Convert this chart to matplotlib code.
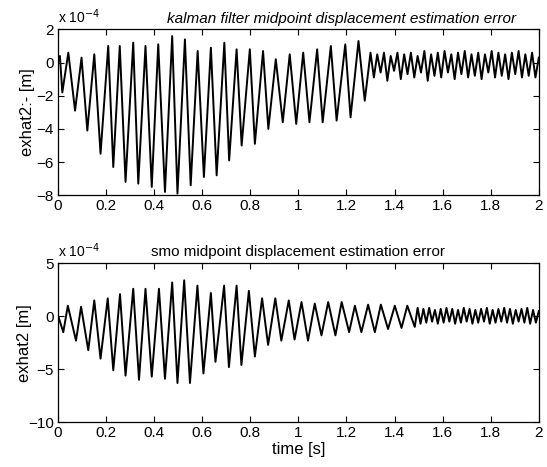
import matplotlib.pyplot as plt
import numpy as np

plt.rcParams['font.family'] = ['Liberation Sans', 'DejaVu Sans']

# kalman filter error: extrema (x 1e-4 m)
t_kf = [0.000, 0.008, 0.018, 0.043, 0.071, 0.098, 0.122, 0.151, 0.177, 0.209,
        0.230, 0.257, 0.281, 0.313, 0.334, 0.364, 0.390, 0.417, 0.445, 0.475,
        0.497, 0.528, 0.552, 0.581, 0.607, 0.636, 0.660, 0.692, 0.712, 0.743,
        0.764, 0.798, 0.819, 0.853, 0.875, 0.906, 0.935, 0.964, 0.991, 1.020,
        1.046, 1.078, 1.101, 1.135, 1.159, 1.195, 1.217, 1.250, 1.276, 1.300,
        1.314, 1.328, 1.342, 1.356, 1.370, 1.384, 1.398, 1.412, 1.426, 1.440,
        1.454, 1.468, 1.482, 1.496, 1.510, 1.524, 1.538, 1.552, 1.566, 1.580,
        1.594, 1.608, 1.622, 1.636, 1.650, 1.664, 1.678, 1.692, 1.706, 1.720,
        1.734, 1.748, 1.762, 1.776, 1.790, 1.804, 1.818, 1.832, 1.846, 1.860,
        1.874, 1.888, 1.902, 1.916, 1.930, 1.944, 1.958, 1.972, 1.986, 2.000]
v_kf = [0.0, 0.4, -1.8, 0.6, -2.9, 0.3, -4.1, 0.5, -5.5, 1.0,
        -6.3, 1.0, -7.2, 1.2, -7.3, 1.0, -7.5, 1.1, -7.8, 1.6,
        -7.9, 1.4, -7.4, 0.7, -6.9, 0.9, -6.8, 1.2, -5.9, 0.8,
        -5.0, 0.8, -4.9, 0.7, -4.0, 0.2, -3.6, 0.5, -3.7, 0.6,
        -3.6, 0.8, -3.6, 1.0, -3.5, 1.1, -3.3, 1.3, -2.3, 0.6,
        -0.9, 0.5, -0.6, 0.6, -1.1, 0.4, -0.5, 0.6, -1.0, 0.5,
        -0.7, 0.6, -0.9, 0.4, -0.6, 0.7, -1.1, 0.5, -0.8, 0.6,
        -0.9, 0.7, -0.6, 0.5, -1.0, 0.6, -0.7, 0.7, -0.9, 0.5,
        -0.8, 0.6, -1.0, 0.5, -0.6, 0.7, -0.9, 0.6, -0.8, 0.5,
        -1.0, 0.6, -0.7, 0.7, -0.9, 0.5, -0.8, 0.6, -0.9, 0.3]

# smo error: extrema (x 1e-4 m)
t_smo = [0.000, 0.022, 0.041, 0.075, 0.096, 0.126, 0.151, 0.177, 0.207, 0.230,
         0.258, 0.281, 0.313, 0.337, 0.364, 0.390, 0.420, 0.445, 0.475, 0.497,
         0.525, 0.549, 0.580, 0.605, 0.636, 0.655, 0.691, 0.711, 0.743, 0.763,
         0.794, 0.819, 0.849, 0.874, 0.904, 0.929, 0.960, 0.984, 1.013, 1.040,
         1.068, 1.096, 1.124, 1.154, 1.180, 1.211, 1.235, 1.262, 1.290, 1.318,
         1.343, 1.373, 1.401, 1.429, 1.453, 1.484,
         1.496, 1.508, 1.520, 1.532, 1.544, 1.556, 1.568, 1.580, 1.592, 1.604,
         1.616, 1.628, 1.640, 1.652, 1.664, 1.676, 1.688, 1.700, 1.712, 1.724,
         1.736, 1.748, 1.760, 1.772, 1.784, 1.796, 1.808, 1.820, 1.832, 1.844,
         1.856, 1.868, 1.880, 1.892, 1.904, 1.916, 1.928, 1.940, 1.952, 1.964,
         1.976, 1.988, 2.000]
v_smo = [0.1, -1.5, 1.0, -2.3, 0.9, -3.2, 1.5, -4.0, 1.7, -5.1,
         2.1, -5.6, 2.6, -6.0, 2.6, -5.7, 2.6, -5.9, 3.2, -6.3,
         3.4, -6.3, 2.9, -5.4, 2.2, -4.3, 2.9, -4.8, 2.9, -4.6,
         2.4, -3.8, 1.7, -2.7, 1.7, -2.3, 1.5, -2.2, 1.35, -2.3,
         1.2, -1.8, 1.35, -1.8, 1.35, -1.5, 1.0, -1.5, 1.1, -1.5,
         1.1, -1.2, 1.0, -1.1, 1.0, -1.0,
         0.8, -0.7, 0.7, -0.6, 0.8, -0.5, 0.6, -0.7, 0.7, -0.6,
         0.8, -0.5, 0.7, -0.7, 0.6, -0.6, 0.8, -0.5, 0.7, -0.7,
         0.6, -0.6, 0.7, -0.5, 0.8, -0.7, 0.6, -0.6, 0.7, -0.5,
         0.8, -0.6, 0.7, -0.7, 0.6, -0.5, 0.7, -0.6, 0.8, -0.7,
         0.6, -0.6, 0.5]

x_ticks = [0, 0.2, 0.4, 0.6, 0.8, 1, 1.2, 1.4, 1.6, 1.8, 2]
x_labels = ['0', '0.2', '0.4', '0.6', '0.8', '1', '1.2', '1.4', '1.6', '1.8', '2']
y_ticks_kf = [-8, -6, -4, -2, 0, 2]
y_ticks_smo = [-10, -5, 0, 5]

fig = plt.figure(figsize=(5.47, 4.67), dpi=100)
ax1 = fig.add_axes([0.106, 0.582, 0.879, 0.355])
ax2 = fig.add_axes([0.106, 0.096, 0.879, 0.340])

def style(ax, yt):
    ax.set_xlim(0, 2)
    ax.set_xticks(x_ticks)
    ax.set_xticklabels(x_labels)
    ax.set_yticks(yt)
    ax.set_ylim(yt[0], yt[-1])
    ax.tick_params(direction='in', top=True, right=True, labelsize=11,
                   length=4, width=0.8, pad=3)
    for s in ax.spines.values():
        s.set_linewidth(0.9)

ax1.plot(t_kf, v_kf, color='black', lw=1.4)
style(ax1, y_ticks_kf)
ax1.set_ylabel('exhat2:- [m]', fontsize=12, labelpad=1)
ax1.text(0.0, 1.02, r'x 10$^{-4}$', transform=ax1.transAxes, fontsize=10,
         ha='left', va='bottom')
ax1.text(0.59, 1.02, 'kalman filter midpoint displacement estimation error',
         transform=ax1.transAxes, fontsize=11, ha='center', va='bottom',
         style='italic')

ax2.plot(t_smo, v_smo, color='black', lw=1.4)
style(ax2, y_ticks_smo)
ax2.set_ylabel('exhat2 [m]', fontsize=12, labelpad=-3)
ax2.set_xlabel('time [s]', fontsize=12, labelpad=1)
ax2.text(0.0, 1.02, r'x 10$^{-4}$', transform=ax2.transAxes, fontsize=10,
         ha='left', va='bottom')
ax2.set_title('smo midpoint displacement estimation error', fontsize=11, pad=5)

fig.savefig('out.png', dpi=100)
